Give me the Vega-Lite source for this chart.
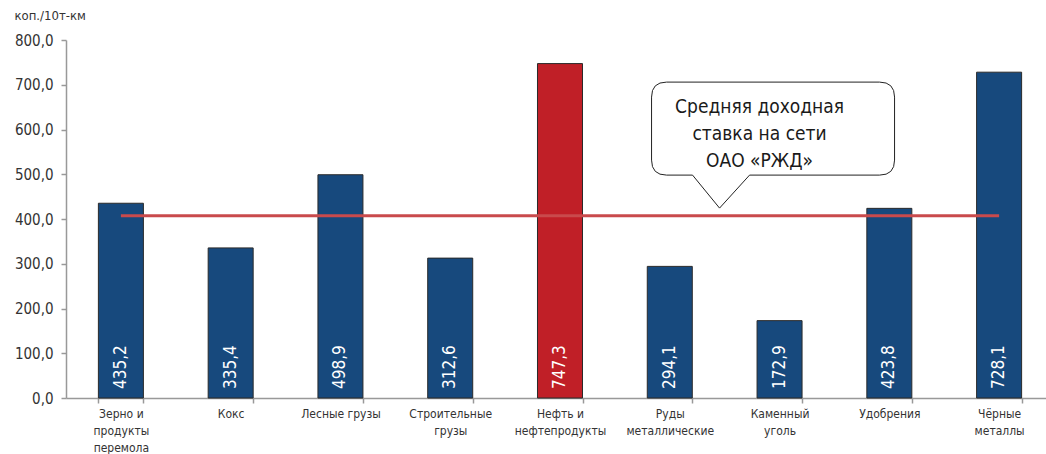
{
  "$schema": "https://vega.github.io/schema/vega-lite/v6.json",
  "width": 988,
  "height": 358,
  "autosize": {"type": "none"},
  "padding": {"left": 66, "top": 40, "right": 0, "bottom": 56},
  "background": "white",
  "config": {
    "view": {"stroke": null},
    "locale": {"number": {"decimal": ",", "thousands": " ", "grouping": [3], "currency": ["", ""]}},
    "font": "DejaVu Sans Condensed"
  },
  "datasets": {
    "bars": [
      {"cat": "Зерно и|продукты|перемола", "value": 435.2, "kind": "a"},
      {"cat": "Кокс", "value": 335.4, "kind": "a"},
      {"cat": "Лесные грузы", "value": 498.9, "kind": "a"},
      {"cat": "Строительные|грузы", "value": 312.6, "kind": "a"},
      {"cat": "Нефть и|нефтепродукты", "value": 747.3, "kind": "b"},
      {"cat": "Руды|металлические", "value": 294.1, "kind": "a"},
      {"cat": "Каменный|уголь", "value": 172.9, "kind": "a"},
      {"cat": "Удобрения", "value": 423.8, "kind": "a"},
      {"cat": "Чёрные|металлы", "value": 728.1, "kind": "a"}
    ],
    "avg": [
      {"from": "Зерно и|продукты|перемола", "to": "Чёрные|металлы", "avg": 407}
    ],
    "note": [
      {"cat": "Каменный|уголь", "y": 602, "ty": 651}
    ]
  },
  "layer": [
    {
      "data": {"name": "bars"},
      "mark": {"type": "bar", "stroke": "#2a2a2a", "strokeWidth": 1},
      "encoding": {
        "x": {
          "field": "cat", "type": "nominal", "sort": null,
          "scale": {"paddingInner": 0.59, "paddingOuter": 0.295},
          "axis": {
            "title": null, "labelAngle": 0, "labelExpr": "split(datum.label, '|')",
            "labelFont": "DejaVu Sans Condensed", "labelFontSize": 12, "labelColor": "#333333",
            "labelLineHeight": 17, "labelPadding": 5, "labelBaseline": "top",
            "tickBand": "extent", "tickSize": 5, "tickColor": "#999999",
            "domainColor": "#999999", "domainWidth": 1.5, "tickWidth": 1.5
          }
        },
        "y": {
          "field": "value", "type": "quantitative",
          "scale": {"domain": [0, 800]},
          "axis": {
            "values": [0, 100, 200, 300, 400, 500, 600, 700, 800],
            "format": ".1f", "grid": false,
            "labelFont": "DejaVu Sans Condensed", "labelFontSize": 15, "labelColor": "#333333",
            "labelPadding": 8, "tickSize": 5, "tickColor": "#999999",
            "domainColor": "#999999", "domainWidth": 1.5, "tickWidth": 1.5,
            "title": "коп./10т-км", "titleAngle": 0, "titleAlign": "left", "titleBaseline": "middle",
            "titleX": -52, "titleY": -25, "titleFont": "DejaVu Sans Condensed",
            "titleFontSize": 13, "titleFontWeight": "normal", "titleColor": "#333333"
          }
        },
        "color": {
          "field": "kind", "type": "nominal",
          "scale": {"domain": ["a", "b"], "range": ["#17497d", "#c01f27"]},
          "legend": null
        }
      }
    },
    {
      "data": {"name": "bars"},
      "mark": {"type": "text", "angle": 270, "align": "left", "baseline": "middle",
               "dx": 9, "color": "white", "font": "DejaVu Sans Condensed", "fontSize": 17},
      "encoding": {
        "x": {"field": "cat", "type": "nominal", "sort": null},
        "y": {"datum": 0},
        "text": {"field": "value", "type": "quantitative", "format": ".1f"}
      }
    },
    {
      "data": {"name": "avg"},
      "mark": {"type": "rule", "color": "#c94a4c", "strokeWidth": 3},
      "encoding": {
        "x": {"field": "from", "type": "nominal", "sort": null},
        "x2": {"field": "to"},
        "y": {"field": "avg", "type": "quantitative"}
      }
    },
    {
      "data": {"name": "note"},
      "mark": {
        "type": "point", "filled": true, "fill": "white", "stroke": "#222222", "strokeWidth": 1, "opacity": 1,
        "size": 400,
        "shape": "M-11.3,-4.65 L10,-4.65 Q11.5,-4.65 11.5,-3.15 L11.5,3.15 Q11.5,4.65 10,4.65 L-3.0,4.65 L-6.0,7.95 L-8.7,4.65 L-11.3,4.65 Q-12.8,4.65 -12.8,3.15 L-12.8,-3.15 Q-12.8,-4.65 -11.3,-4.65 Z"
      },
      "encoding": {
        "x": {"field": "cat", "type": "nominal", "sort": null},
        "y": {"field": "y", "type": "quantitative"}
      }
    },
    {
      "data": {"name": "note"},
      "mark": {
        "type": "text", "text": ["Средняя доходная", "ставка на сети", "ОАО «РЖД»"],
        "align": "center", "baseline": "middle", "lineHeight": 27, "dx": -20,
        "font": "DejaVu Sans Condensed", "fontSize": 19, "color": "#1a1a1a"
      },
      "encoding": {
        "x": {"field": "cat", "type": "nominal", "sort": null},
        "y": {"field": "ty", "type": "quantitative"}
      }
    }
  ]
}
